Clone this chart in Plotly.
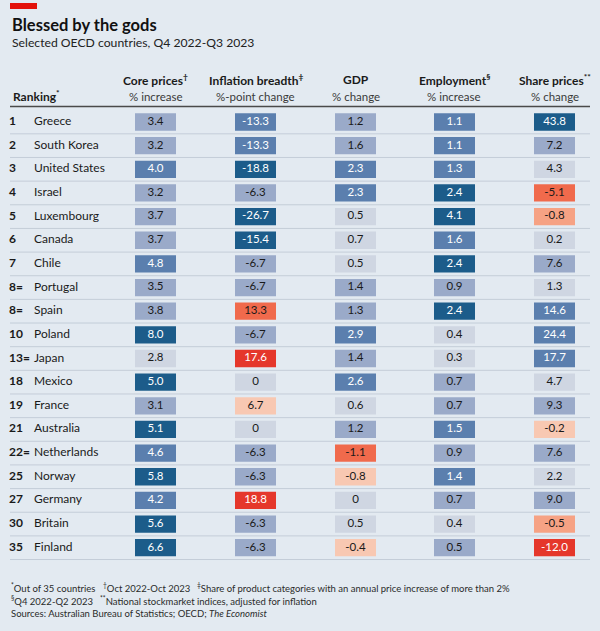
import plotly.graph_objects as go

# ---------------- data ----------------
ranks = ["1", "2", "3", "4", "5", "6", "7", "8=", "8=", "10", "13=", "18", "19",
         "21", "22=", "25", "27", "30", "35"]
countries = ["Greece", "South Korea", "United States", "Israel", "Luxembourg",
             "Canada", "Chile", "Portugal", "Spain", "Poland", "Japan", "Mexico",
             "France", "Australia", "Netherlands", "Norway", "Germany", "Britain",
             "Finland"]
core_prices = [3.4, 3.2, 4.0, 3.2, 3.7, 3.7, 4.8, 3.5, 3.8, 8.0, 2.8, 5.0, 3.1,
               5.1, 4.6, 5.8, 4.2, 5.6, 6.6]
inflation_breadth = [-13.3, -13.3, -18.8, -6.3, -26.7, -15.4, -6.7, -6.7, 13.3,
                     -6.7, 17.6, 0, 6.7, 0, -6.3, -6.3, 18.8, -6.3, -6.3]
gdp = [1.2, 1.6, 2.3, 2.3, 0.5, 0.7, 0.5, 1.4, 1.3, 2.9, 1.4, 2.6, 0.6, 1.2,
       -1.1, -0.8, 0, 0.5, -0.4]
employment = [1.1, 1.1, 1.3, 2.4, 4.1, 1.6, 2.4, 0.9, 2.4, 0.4, 0.3, 0.7, 0.7,
              1.5, 0.9, 1.4, 0.7, 0.4, 0.5]
share_prices = [43.8, 7.2, 4.3, -5.1, -0.8, 0.2, 7.6, 1.3, 14.6, 24.4, 17.7, 4.7,
                9.3, -0.2, 7.6, 2.2, 9.0, -0.5, -12.0]

column_titles = ["Core prices<sup>†</sup>", "Inflation breadth<sup>‡</sup>", "GDP",
                 "Employment<sup>§</sup>", "Share prices<sup>**</sup>"]
column_units = ["% increase", "%-point change", "% change", "% increase", "% change"]

title = "Blessed by the gods"
subtitle = "Selected OECD countries, Q4 2022-Q3 2023"
footnotes = [
    ["<sup>*</sup>Out of 35 countries", "<sup>†</sup>Oct 2022-Oct 2023",
     "<sup>‡</sup>Share of product categories with an annual price increase of more than 2%"],
    ["<sup>§</sup>Q4 2022-Q2 2023",
     "<sup>**</sup>National stockmarket indices, adjusted for inflation"],
    ["Sources: Australian Bureau of Statistics; OECD; <i>The Economist</i>"],
]

# ---------------- style ----------------
W, H = 600, 631
BG = "#e3eaf1"
FONT = "Lato"
TXT = "#1a1a1a"
D, M, L, VL = "#1c5c8a", "#5b7fae", "#9aaac9", "#cfd6e2"
R4, R3, R2, R1 = "#e5372b", "#f06a4c", "#f6a284", "#f8c8b2"
WHITE_BG = {D, M, R4}


def col_core(v):
    return VL if v < 3 else L if v < 4 else M if v < 5 else D


def col_infl(v):
    if v <= -15: return D
    if v <= -10: return M
    if v < 0: return L
    if v == 0: return VL
    if v < 10: return R1
    if v < 15: return R3
    return R4


def col_gdp(v):
    if v >= 2: return M
    if v >= 1: return L
    if v >= 0: return VL
    if v > -1: return R1
    return R3


def col_emp(v):
    return D if v >= 2 else M if v >= 1 else L if v >= 0.5 else VL


def col_share(v):
    if v >= 25: return D
    if v >= 10: return M
    if v >= 5: return L
    if v >= 0: return VL
    if v > -0.3: return R1
    if v > -1: return R2
    if v > -10: return R3
    return R4


columns = [core_prices, inflation_breadth, gdp, employment, share_prices]
colour_fns = [col_core, col_infl, col_gdp, col_emp, col_share]
col_centers = [155.5, 255.5, 355.5, 454.5, 554.5]   # px along x axis
cell_w = 41
row0_px, row_step = 122.0, 23.65                     # pixel centre of first row, spacing
n = len(countries)
rows = list(range(n))

foot_x = [[9, 101, 195], [9, 98], [9]]
foot_y = [587, 600, 613]


def fmt(v):
    return "0" if v == 0 else f"{v:.1f}"


def py(p):
    return 1 - p / H


def px(p):
    return p / W


fig = go.Figure()

for vals, fn, cx in zip(columns, colour_fns, col_centers):
    colours = [fn(v) for v in vals]
    fig.add_trace(go.Bar(
        orientation="h", y=rows, x=[cell_w] * n, base=[cx - cell_w / 2] * n,
        width=0.73, marker=dict(color=colours, line=dict(width=0)),
        hoverinfo="skip", showlegend=False))
    fig.add_trace(go.Scatter(
        x=[cx] * n, y=rows, mode="text", text=[fmt(v) for v in vals],
        textposition="middle center",
        textfont=dict(family=FONT, size=11.5,
                      color=["white" if c in WHITE_BG else TXT for c in colours]),
        hoverinfo="skip", showlegend=False))

# ranks and countries
fig.add_trace(go.Scatter(
    x=[9] * n, y=rows, mode="text", text=ranks,
    textposition="middle right",
    textfont=dict(family=FONT, size=12, color=TXT, weight="bold"),
    hoverinfo="skip", showlegend=False))
fig.add_trace(go.Scatter(
    x=[34] * n, y=rows, mode="text", text=countries,
    textposition="middle right", textfont=dict(family=FONT, size=12, color=TXT),
    hoverinfo="skip", showlegend=False))

shapes = []
# red tag
shapes.append(dict(type="rect", xref="paper", yref="paper", x0=px(10), x1=px(37),
                   y0=py(9), y1=py(3), fillcolor="#e3120b", line=dict(width=0)))
# header rule
shapes.append(dict(type="line", xref="x", yref="paper", x0=10, x1=590,
                   y0=py(106.5), y1=py(106.5), line=dict(color="#4a4a4a", width=1.3)))
# row separators
for i in rows:
    shapes.append(dict(type="line", xref="x", yref="y", x0=10, x1=590,
                       y0=i + 0.5, y1=i + 0.5, line=dict(color="#c4cdd8", width=1)))

ann = []
ann.append(dict(text=title, x=px(10), y=py(25), xanchor="left", yanchor="middle",
                font=dict(family=FONT, size=16.5, color="#111", weight="bold")))
ann.append(dict(text=subtitle, x=px(10), y=py(42.5), xanchor="left",
                yanchor="middle", font=dict(family=FONT, size=12.2, color="#222")))
ann.append(dict(text="Ranking<sup>*</sup>", x=px(11), y=py(96), xanchor="left",
                yanchor="middle",
                font=dict(family=FONT, size=12, color=TXT, weight="bold")))
for t, u, cx in zip(column_titles, column_units, col_centers):
    ann.append(dict(text=t, x=px(cx), y=py(80), xanchor="center", yanchor="middle",
                    font=dict(family=FONT, size=12, color=TXT, weight="bold")))
    ann.append(dict(text=u, x=px(cx), y=py(96), xanchor="center",
                    yanchor="middle", font=dict(family=FONT, size=11.5, color="#3a3a3a")))

for line, xs, y in zip(footnotes, foot_x, foot_y):
    for t, x in zip(line, xs):
        ann.append(dict(text=t, x=px(x), y=py(y), xanchor="left", yanchor="middle",
                        font=dict(family=FONT, size=9.5, color="#2a2a2a")))

for a in ann:
    a.update(xref="paper", yref="paper", showarrow=False)

fig.update_layout(
    width=W, height=H, margin=dict(l=0, r=0, t=0, b=0),
    paper_bgcolor=BG, plot_bgcolor=BG, barmode="overlay",
    xaxis=dict(range=[0, W], visible=False, fixedrange=True),
    yaxis=dict(range=[(H - row0_px) / row_step, -row0_px / row_step],
               visible=False, fixedrange=True),
    shapes=shapes, annotations=ann, showlegend=False,
)

fig.write_html("out.html", config={"displayModeBar": False, "staticPlot": True},
               post_script="document.body.style.margin='0';")
